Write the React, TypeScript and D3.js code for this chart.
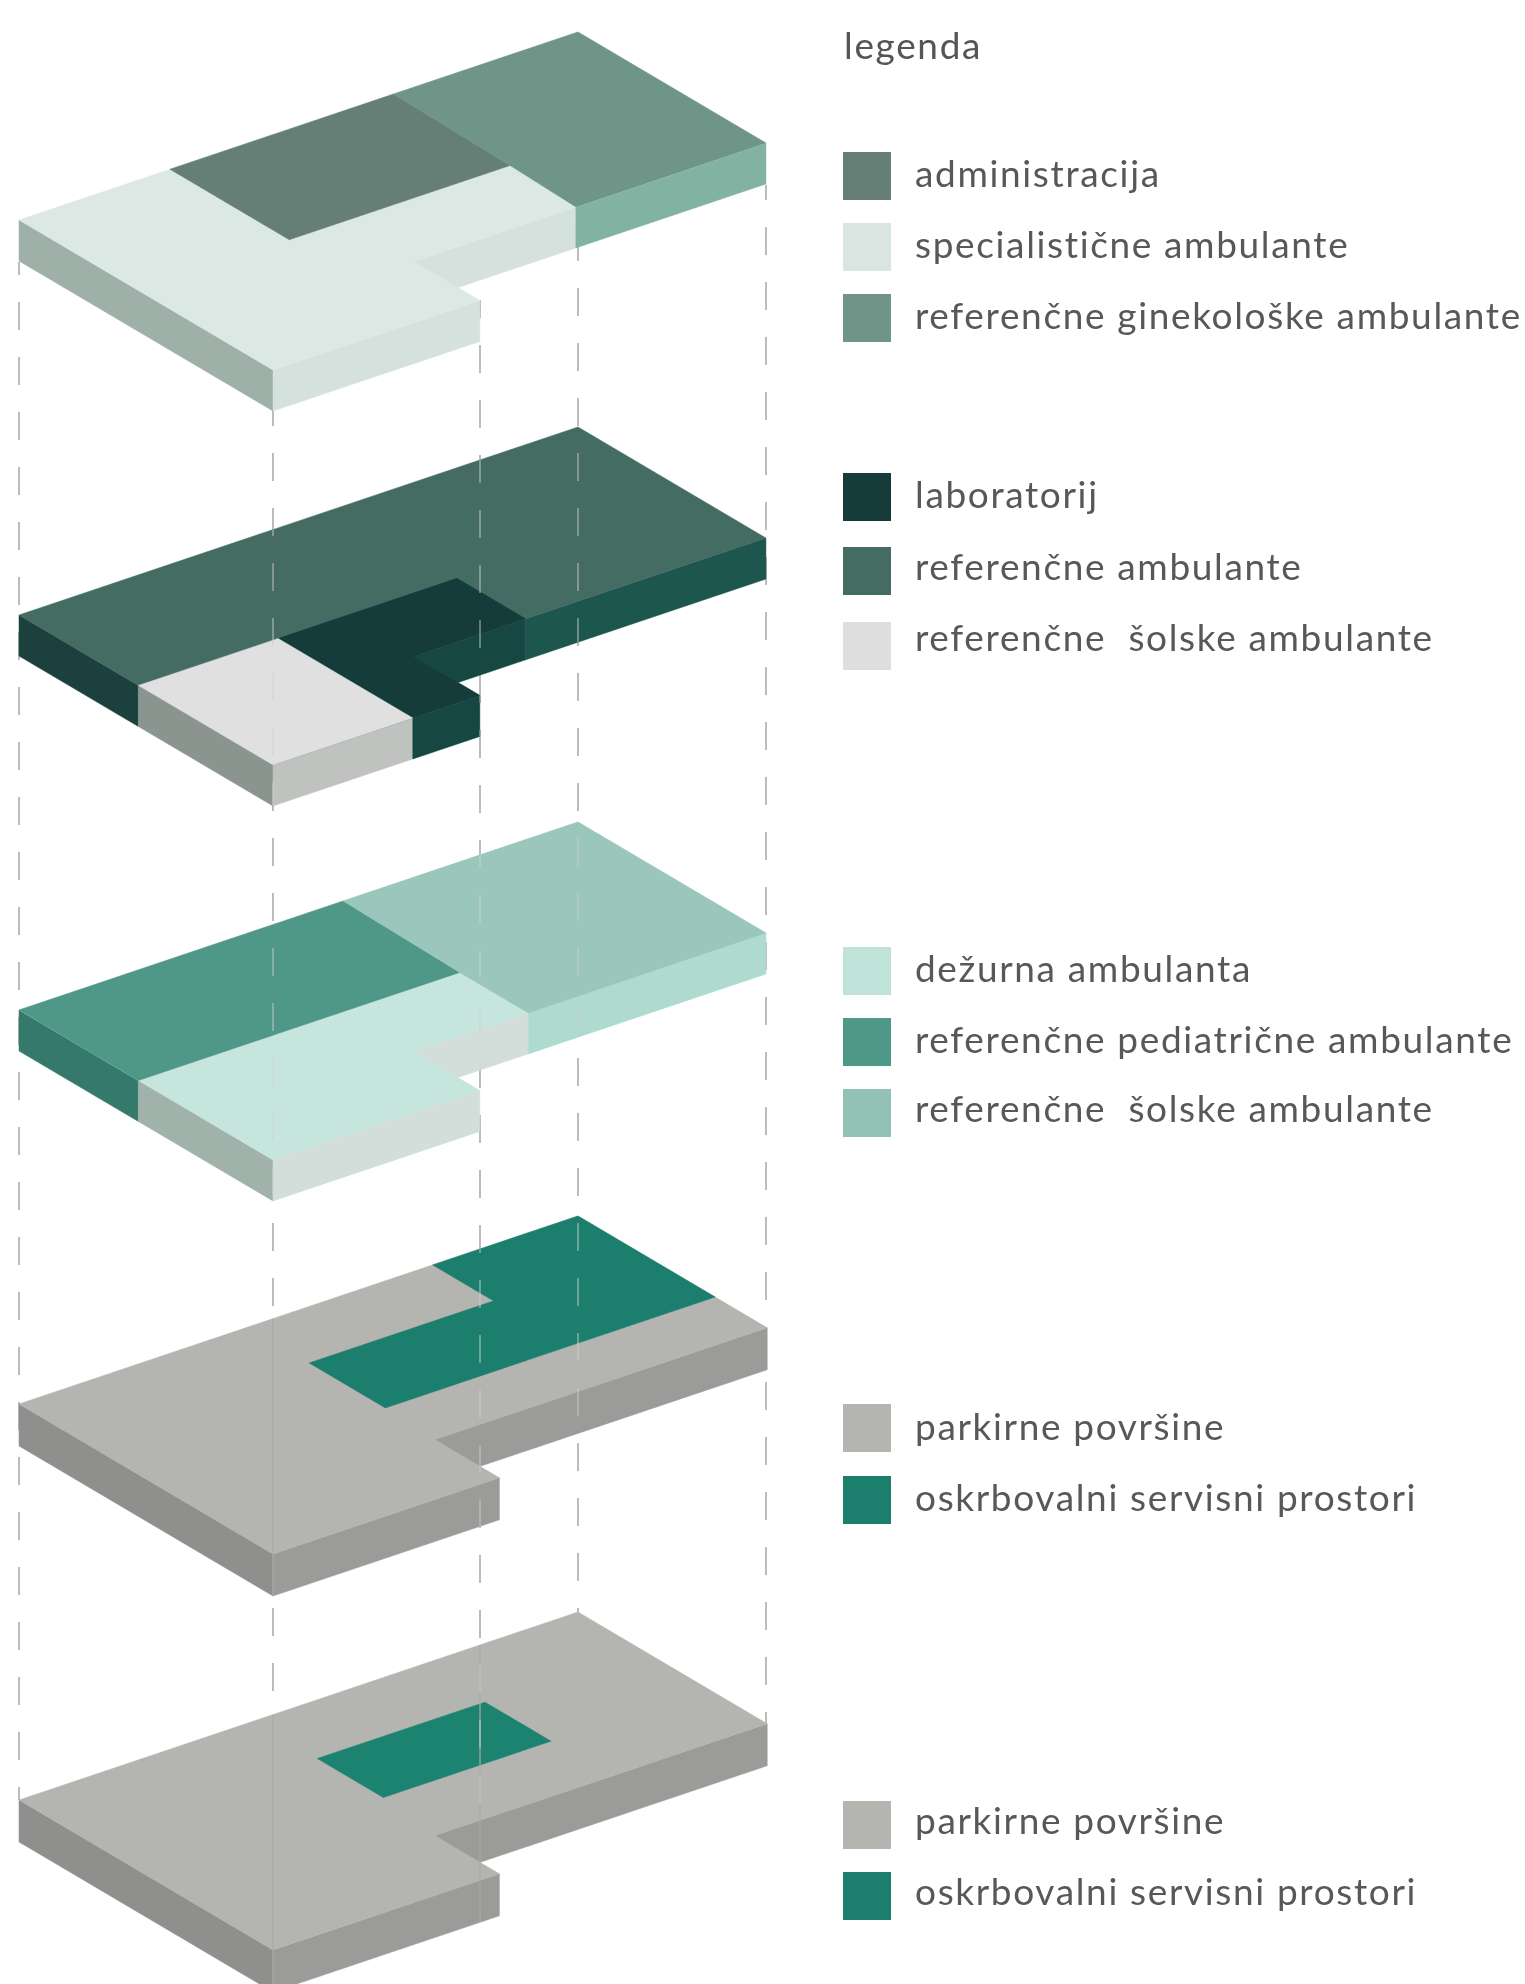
import React from "react";
import * as d3 from "d3";

type P = [number, number];
type Face = { color: string; pts: P[] };
type Wall = { color: string; from: P; to: P };

// Plan coordinates: u runs along the long side, v along the short side (0-100).
const originXs = [19, 19, 19, 19, 19];
const originYs = [220, 615, 1010, 1404, 1800];
const wallHeights = [41, 41, 41, 42, 42];

const layer1Tops: Face[] = [
  { color: "#dce8e4", pts: [[0, 0], [100, 0], [100, 74], [37, 74], [37, 100], [0, 100]] },
  { color: "#667f76", pts: [[27, 0], [67, 0], [66.5, 47], [27, 47]] },
  { color: "#6e9587", pts: [[67, 0], [100, 0], [100, 74], [66, 74], [66.5, 47]] },
];
const layer1Walls: Wall[] = [
  { color: "#9fb0a9", from: [0, 0], to: [0, 100] },
  { color: "#d4e1dd", from: [0, 100], to: [37, 100] },
  { color: "#d4e1dd", from: [37, 74], to: [66, 74] },
  { color: "#82b2a2", from: [66, 74], to: [100, 74] },
];

const layer2Tops: Face[] = [
  { color: "#456c64", pts: [[0, 0], [100, 0], [100, 74], [37, 74], [37, 100], [0, 100]] },
  { color: "#123b3b", pts: [[25, 47], [57, 47], [57, 74], [37, 74], [37, 100], [25, 100]] },
  { color: "#e0e0e0", pts: [[0, 47], [25, 47], [25, 100], [0, 100]] },
];
const layer2Walls: Wall[] = [
  { color: "#1f403c", from: [0, 0], to: [0, 47] },
  { color: "#8a9590", from: [0, 47], to: [0, 100] },
  { color: "#c0c2c0", from: [0, 100], to: [25, 100] },
  { color: "#124742", from: [25, 100], to: [37, 100] },
  { color: "#124742", from: [37, 74], to: [57, 74] },
  { color: "#1c5650", from: [57, 74], to: [100, 74] },
];

const layer3Tops: Face[] = [
  { color: "#c5e5dd", pts: [[0, 0], [100, 0], [100, 74], [37, 74], [37, 100], [0, 100]] },
  { color: "#4f9787", pts: [[0, 0], [58, 0], [57.5, 47], [0, 47]] },
  { color: "#9ac6bb", pts: [[58, 0], [100, 0], [100, 74], [57.5, 74], [57.5, 47]] },
];
const layer3Walls: Wall[] = [
  { color: "#35796c", from: [0, 0], to: [0, 47] },
  { color: "#a1b2ab", from: [0, 47], to: [0, 100] },
  { color: "#d3dedb", from: [0, 100], to: [37, 100] },
  { color: "#d3dedb", from: [37, 74], to: [57.5, 74] },
  { color: "#aedad0", from: [57.5, 74], to: [100, 74] },
];

const layer4Tops: Face[] = [
  { color: "#b4b4b1", pts: [[0, 0], [100, 0], [100, 74.5], [40.5, 74.5], [40.5, 100], [0, 100]] },
  { color: "#1f7f6d", pts: [[74, 0], [100, 0], [100, 54], [41, 54], [41, 24], [74, 24]] },
];
const layer4Walls: Wall[] = [
  { color: "#8f8f8d", from: [0, 0], to: [0, 100] },
  { color: "#9b9b99", from: [0, 100], to: [40.5, 100] },
  { color: "#9b9b99", from: [40.5, 74.5], to: [100, 74.5] },
];

const layer5Tops: Face[] = [
  { color: "#b4b4b1", pts: [[0, 0], [100, 0], [100, 74.5], [40.5, 74.5], [40.5, 100], [0, 100]] },
  { color: "#1b8370", pts: [[42, 25], [72, 25], [72, 51], [42, 51]] },
];
const layer5Walls: Wall[] = [
  { color: "#8f8f8d", from: [0, 0], to: [0, 100] },
  { color: "#9b9b99", from: [0, 100], to: [40.5, 100] },
  { color: "#9b9b99", from: [40.5, 74.5], to: [100, 74.5] },
];

const allTops = [layer1Tops, layer2Tops, layer3Tops, layer4Tops, layer5Tops];
const allWalls = [layer1Walls, layer2Walls, layer3Walls, layer4Walls, layer5Walls];

// Guide lines
const guideXs = [19, 273, 480, 578, 766];
const guideStarts = [262, 409, 300, 245, 185];
const guideEnds = [1800, 1984, 1823, 1615, 1723];
const guidePhases = [27, 13, 15, 13, 7];
const overlayDashed = [[], [1, 2, 3], [1, 2, 3], [2, 3], [2]];
const overlaySolid = [[], [], [], [1], [1, 2]];

// Legend
const legendTitle = "legenda";
const legendLabels = [
  "administracija", "specialistične ambulante", "referenčne ginekološke ambulante",
  "laboratorij", "referenčne ambulante", "referenčne  šolske ambulante",
  "dežurna ambulanta", "referenčne pediatrične ambulante", "referenčne  šolske ambulante",
  "parkirne površine", "oskrbovalni servisni prostori",
  "parkirne površine", "oskrbovalni servisni prostori",
];
const legendColors = [
  "#667f76", "#d8e5e1", "#6e9587",
  "#123b3b", "#456c64", "#dedede",
  "#bfe3d9", "#4f9787", "#93c1b5",
  "#b4b4b1", "#1f7f6d",
  "#b4b4b1", "#1f7f6d",
];
const legendTops = [152, 223, 294, 473, 547, 622, 947, 1018, 1089, 1404, 1476, 1801, 1872];
const legendBaselines = [187, 258, 329, 508, 580, 651, 982, 1053, 1122, 1440, 1511, 1834, 1905];

const xU = d3.scaleLinear().domain([0, 100]).range([0, 559]);
const xV = d3.scaleLinear().domain([0, 100]).range([0, 254]);
const yU = d3.scaleLinear().domain([0, 100]).range([0, -188]);
const yV = d3.scaleLinear().domain([0, 100]).range([0, 150]);

const project = (l: number, [u, v]: P): P => [
  originXs[l] + xU(u) + xV(v),
  originYs[l] + yU(u) + yV(v),
];
const closed = d3.line<P>().curve(d3.curveLinearClosed);
const facePath = (l: number, pts: P[]) => closed(pts.map((p) => project(l, p))) as string;
const wallPath = (l: number, w: Wall) => {
  const a = project(l, w.from);
  const b = project(l, w.to);
  const h = wallHeights[l];
  return closed([a, b, [b[0], b[1] + h], [a[0], a[1] + h]]) as string;
};

const dashProps = (i: number, start: number) => ({
  strokeDasharray: "28 27",
  strokeDashoffset: ((start - guidePhases[i]) % 55 + 55) % 55,
});

const FONT = "Lato, 'Open Sans', sans-serif";
const TEXT_STYLE = { whiteSpace: "pre" as const, letterSpacing: "1.65px" };

export default function App() {
  return (
    <svg
      width={1525}
      height={1984}
      viewBox="0 0 1525 1984"
      style={{ position: "absolute", left: 0, top: 0, background: "#fff" }}
    >
      <defs>
        <filter id="soft" x="-5%" y="-5%" width="110%" height="110%">
          <feGaussianBlur stdDeviation="0.7" />
        </filter>
        {allTops.map((tops, l) => (
          <clipPath id={`sil${l}`} key={l}>
            <path d={facePath(l, tops[0].pts)} />
            {allWalls[l].map((w, i) => (
              <path key={i} d={wallPath(l, w)} />
            ))}
          </clipPath>
        ))}
      </defs>

      <g filter="url(#soft)">
        {guideXs.map((x, i) => (
          <line
            key={x}
            x1={x}
            x2={x}
            y1={guideStarts[i]}
            y2={guideEnds[i]}
            stroke="#bcbcbc"
            strokeWidth={2}
            {...dashProps(i, guideStarts[i])}
          />
        ))}

        {allTops.map((tops, l) => (
          <g key={l}>
            {allWalls[l].map((w, i) => (
              <path key={i} d={wallPath(l, w)} fill={w.color} stroke={w.color} strokeWidth={0.5} />
            ))}
            {tops.map((f, i) => (
              <path key={i} d={facePath(l, f.pts)} fill={f.color} stroke={f.color} strokeWidth={0.5} />
            ))}
            <g clipPath={`url(#sil${l})`}>
              {overlaySolid[l].map((g: number) => (
                <line
                  key={g}
                  x1={guideXs[g]}
                  x2={guideXs[g]}
                  y1={originYs[l] - 200}
                  y2={originYs[l] + 200}
                  stroke="#a9a9a6"
                  strokeWidth={1.2}
                />
              ))}
              {overlayDashed[l].map((g: number) => (
                <line
                  key={g}
                  x1={guideXs[g]}
                  x2={guideXs[g]}
                  y1={guideStarts[g]}
                  y2={guideEnds[g]}
                  stroke="#cfcfcf"
                  strokeOpacity={0.6}
                  strokeWidth={1.5}
                  {...dashProps(g, guideStarts[g])}
                />
              ))}
            </g>
          </g>
        ))}

        <text x={844} y={59} fontFamily={FONT} fontSize={37} fill="#555" style={TEXT_STYLE}>
          {legendTitle}
        </text>
        {legendLabels.map((label, i) => (
          <g key={i}>
            <rect x={843} y={legendTops[i]} width={48} height={48} fill={legendColors[i]} />
            <text
              x={915}
              y={legendBaselines[i]}
              fontFamily={FONT}
              fontSize={37}
              fill="#585858"
              style={TEXT_STYLE}
            >
              {label}
            </text>
          </g>
        ))}
      </g>
    </svg>
  );
}
